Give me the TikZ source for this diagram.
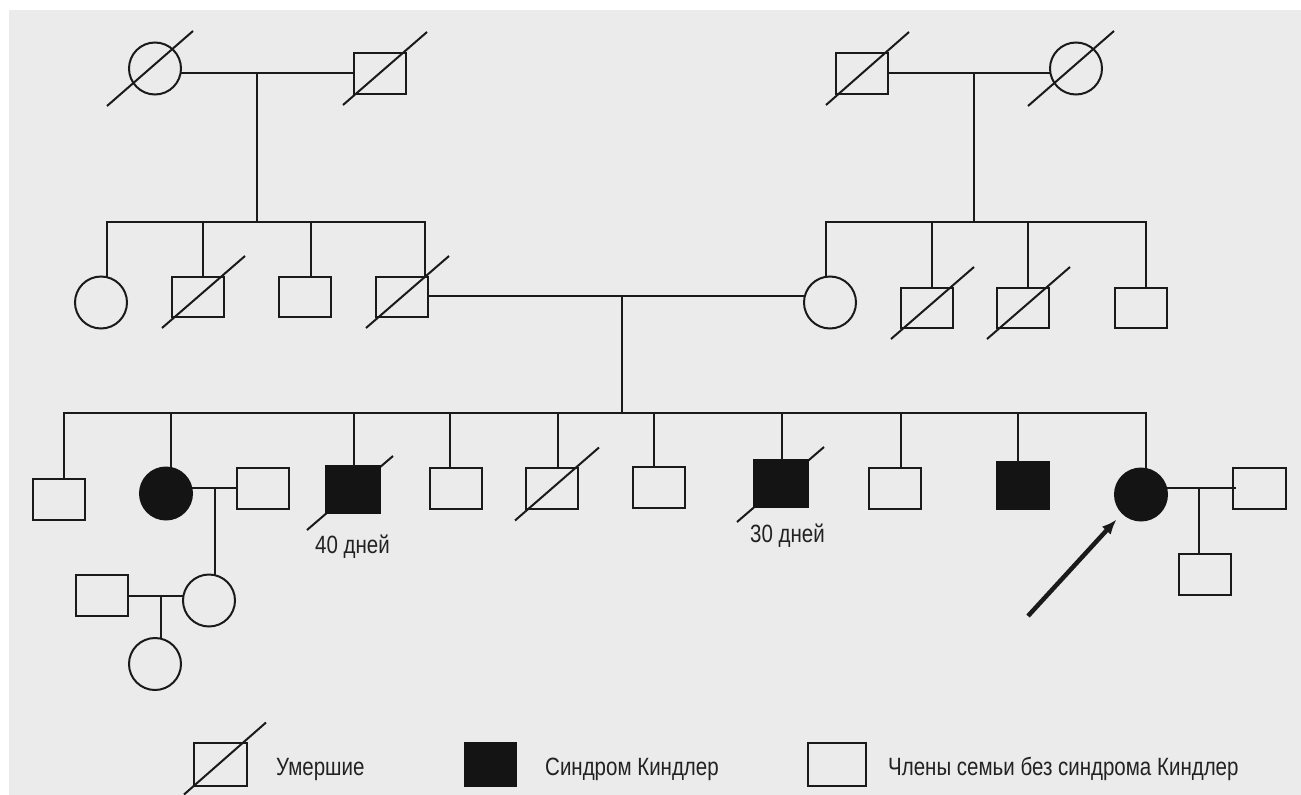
\documentclass[tikz,border=0pt]{standalone}
\usepackage{fontspec}
\newfontfamily\condfont{Liberation Sans}[FakeStretch=0.82]
\usetikzlibrary{calc,arrows.meta}
\definecolor{bgc}{HTML}{EBEBEB}
\definecolor{ink}{HTML}{1A1A1A}
\definecolor{affc}{HTML}{141414}
\definecolor{txtc}{HTML}{222222}
\begin{document}
\begin{tikzpicture}[x=1pt,y=-1pt,
  male/.style={rectangle,draw=ink,line width=2pt,inner sep=0pt,outer sep=0pt,minimum width=52pt,minimum height=41pt},
  female/.style={circle,draw=ink,line width=2pt,inner sep=0pt,outer sep=0pt,minimum size=52pt},
  aff/.style={fill=affc,draw=affc},
  rel/.style={draw=ink,line width=2pt},
  lbl/.style={font=\condfont\fontsize{25}{29}\selectfont,text=txtc,inner sep=0pt,anchor=base west},
  proband/.style={draw=ink,line width=4.5pt,-{Latex[length=15pt,width=12pt]},shorten >=9pt}
]
\useasboundingbox (0,0) rectangle (1301,795);
\fill[bgc] (9,10) rectangle (1301,795);

% ---------- Generation I ----------
\node[female] (a1) at (155,68.5) {};
\node[male] (a2) at (380,73.5) {};
\node[male] (b1) at (862,73.5) {};
\node[female] (b2) at (1076,68.5) {};
\draw[rel] ($(a1.center)+(-48,37.5)$) -- ($(a1.center)+(38,-37.5)$);
\draw[rel] ($(b2.center)+(-48,37.5)$) -- ($(b2.center)+(38,-37.5)$);
\draw[rel] ($(a2.south west)+(-11,11)$) -- ($(a2.north east)+(21,-21)$);
\draw[rel] ($(b1.south west)+(-10,11)$) -- ($(b1.north east)+(21,-21)$);
\coordinate (ma) at (257,73);
\coordinate (sa) at (257,222);
\coordinate (mb) at (974,73);
\coordinate (sb) at (974,222);
\draw[rel] (a1.east |- ma) -- (a2.west |- ma);
\draw[rel] (ma) -- (sa);
\draw[rel] (b1.east |- mb) -- (b2.west |- mb);
\draw[rel] (mb) -- (sb);

% ---------- Generation II ----------
\node[female] (c1) at (101,302.5) {};
\node[male,minimum height=40pt] (c2) at (198,297) {};
\node[male,minimum height=40pt] (c3) at (305,297) {};
\node[male,minimum height=40pt] (c4) at (402,297) {};
\node[female] (d1) at (830,302.5) {};
\node[male,minimum height=40pt] (d2) at (927,308) {};
\node[male,minimum height=40pt] (d3) at (1023,308) {};
\node[male,minimum height=40pt] (d4) at (1140.5,308) {};
\foreach \n in {c2,c4,d2,d3}{
  \draw[rel] ($(\n.south west)+(-10,11)$) -- ($(\n.north east)+(21,-21)$);
}
\coordinate (jc1) at (107,222);
\coordinate (jc2) at (203,222);
\coordinate (jc3) at (311,222);
\coordinate (jc4) at (425,222);
\draw[rel] (jc1 |- c1.north) -- (jc1) -- (jc4) -- (jc4 |- c4.north);
\draw[rel] (jc2) -- (jc2 |- c2.north);
\draw[rel] (jc3) -- (jc3 |- c3.north);
\coordinate (jd1) at (826,222);
\coordinate (jd2) at (932,222);
\coordinate (jd3) at (1028,222);
\coordinate (jd4) at (1146,222);
\draw[rel] (jd1 |- d1.north) -- (jd1) -- (jd4) -- (jd4 |- d4.north);
\draw[rel] (jd2) -- (jd2 |- d2.north);
\draw[rel] (jd3) -- (jd3 |- d3.north);
\coordinate (mc) at (622,296);
\coordinate (sc) at (622,413);
\draw[rel] (c4.east |- mc) -- (d1.west |- mc);
\draw[rel] (mc) -- (sc);

% ---------- Generation III ----------
\coordinate (e3c) at (353,489.5);
\coordinate (e7c) at (781,483.5);
\draw[rel] ($(e3c)+(-46,40.5)$) -- ($(e3c)+(40,-33.5)$);
\draw[rel] ($(e7c)+(-44,38.5)$) -- ($(e7c)+(43,-36.5)$);
\node[male] (e1) at (58.5,499.5) {};
\node[female,aff] (e2) at (166,493.5) {};
\node[male,aff,minimum width=54pt,minimum height=47pt] (e3) at (e3c) {};
\node[male] (e4) at (456,488) {};
\node[male] (e5) at (552,488) {};
\node[male] (e6) at (659,487.5) {};
\node[male,aff,minimum width=54pt,minimum height=47pt] (e7) at (e7c) {};
\node[male] (e8) at (895,488.5) {};
\node[male,aff,minimum width=52pt,minimum height=47pt] (e9) at (1023,485.5) {};
\node[female,aff] (e10) at (1141,494.5) {};
\draw[rel] ($(e5.south west)+(-11,12)$) -- ($(e5.north east)+(21,-20)$);
\coordinate (je1) at (64,413);
\coordinate (je2) at (171,413);
\coordinate (je3) at (354,413);
\coordinate (je4) at (450,413);
\coordinate (je5) at (558,413);
\coordinate (je6) at (654,413);
\coordinate (je7) at (782,413);
\coordinate (je8) at (901,413);
\coordinate (je9) at (1018,413);
\coordinate (je10) at (1146,413);
\draw[rel] (je1 |- e1.north) -- (je1) -- (je10) -- (je10 |- e10.north);
\foreach \k in {2,...,9}{
  \draw[rel] (je\k) -- (je\k |- e\k.north);
}
\node[lbl] (t40) at (315,553) {40 дней};
\node[lbl] (t30) at (750,542) {30 дней};

% spouses and descendants
\node[male] (p1) at (262.5,488.5) {};
\coordinate (me) at (215,488);
\draw[rel] (e2.east |- me) -- (p1.west |- me);
\node[female] (f1) at (209,600.5) {};
\draw[rel] (me) -- (me |- f1.north);
\node[male] (p2) at (101.5,595.5) {};
\coordinate (mf) at (161,596);
\draw[rel] (p2.east |- mf) -- (f1.west |- mf);
\node[female] (g1) at (155,664) {};
\draw[rel] (mf) -- (mf |- g1.north);

\node[male,minimum width=53pt] (p3) at (1259.5,488.5) {};
\coordinate (mh) at (1199,488);
\draw[rel] (e10.east |- mh) -- ($(p3.west |- mh)+(3,0)$);
\node[male] (h1) at (1205,574.5) {};
\draw[rel] (mh) -- (mh |- h1.north);

% proband arrow
\coordinate (ptail) at (1028,616);
\draw[proband] (ptail) -- (e10.south west);

% ---------- Legend ----------
\node[male,minimum width=53pt,minimum height=43pt] (L1) at (220.5,764.5) {};
\draw[rel] ($(L1.south west)+(-10,8.5)$) -- ($(L1.north east)+(19,-20.5)$);
\node[lbl] (L1t) at (276,775) {Умершие};
\node[male,aff,minimum width=51pt,minimum height=43pt] (L2) at (490.5,764.5) {};
\node[lbl] (L2t) at (545,775) {Синдром Киндлер};
\node[male,minimum width=58pt,minimum height=43pt] (L3) at (837,764.5) {};
\node[lbl] (L3t) at (888,775) {Члены семьи без синдрома Киндлер};
\end{tikzpicture}
\end{document}
